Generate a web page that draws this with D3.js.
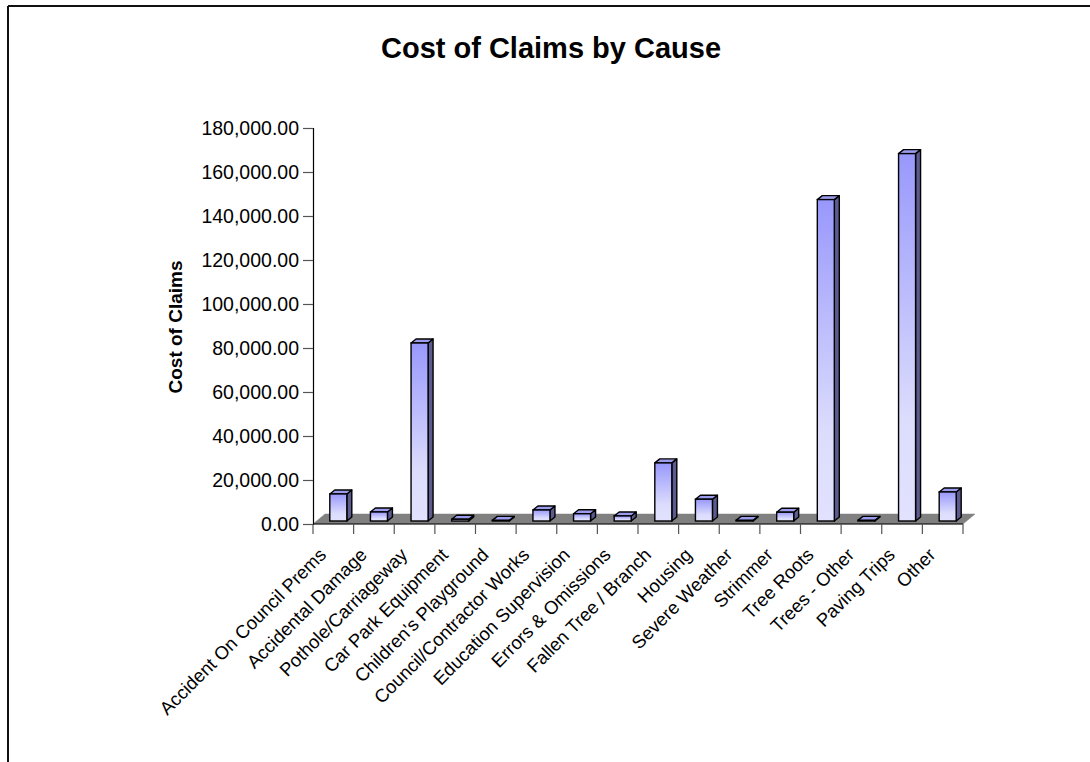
<!DOCTYPE html>
<html>
<head>
<meta charset="utf-8">
<script src="https://cdn.jsdelivr.net/npm/d3@7"></script>
<style>
  html, body { margin: 0; padding: 0; background: #fff; }
  svg { display: block; font-family: "Liberation Sans", Arial, sans-serif; }
</style>
</head>
<body>
<svg id="chart" width="1090" height="762"></svg>
<script>
const categories = [
  "Accident On Council Prems", "Accidental Damage", "Pothole/Carriageway",
  "Car Park Equipment", "Children's Playground", "Council/Contractor Works",
  "Education Supervision", "Errors & Omissions", "Fallen Tree / Branch",
  "Housing", "Severe Weather", "Strimmer", "Tree Roots", "Trees - Other",
  "Paving Trips", "Other"
];
const costs = [
  12300, 4100, 80900, 800, 300, 5000, 3300, 2300, 26400,
  9900, 300, 4000, 146100, 300, 167000, 13200
];
const yTicks = [0, 20000, 40000, 60000, 80000, 100000, 120000, 140000, 160000, 180000];
const titleText = "Cost of Claims by Cause";
const yTitle = "Cost of Claims";

const svg = d3.select("#chart");
const W = 1090, H = 762;

// frame
svg.append("line").attr("x1", 8).attr("y1", 6).attr("x2", W).attr("y2", 6)
  .attr("stroke", "#111").attr("stroke-width", 2);
svg.append("line").attr("x1", 8).attr("y1", 6).attr("x2", 8).attr("y2", H)
  .attr("stroke", "#111").attr("stroke-width", 2);

const x0 = 313, x1 = 963, yBase = 524, yTop = 128;
const x = d3.scaleBand().domain(categories).range([x0, x1]).paddingInner(0).paddingOuter(0);
const y = d3.scaleLinear().domain([0, 180000]).range([yBase, yTop]);

// floor depth
const fdx = 12, fdy = -10;
// bar depth
const bdx = 5, bdy = -4;
const barW = 17;
const barShift = 5; // bars sit mid-floor
const baseLift = 3;

const defs = svg.append("defs");
const grad = defs.append("linearGradient").attr("id", "frontGrad")
  .attr("x1", 0).attr("y1", 0).attr("x2", 0).attr("y2", 1);
grad.append("stop").attr("offset", "0%").attr("stop-color", "#9898fc");
grad.append("stop").attr("offset", "72%").attr("stop-color", "#dcdcfd");
grad.append("stop").attr("offset", "100%").attr("stop-color", "#e2e2ff");

// floor
svg.append("path")
  .attr("d", `M${x0},${yBase} L${x1},${yBase} L${x1 + fdx},${yBase + fdy} L${x0 + fdx},${yBase + fdy} Z`)
  .attr("fill", "#808080").attr("stroke", "#808080").attr("stroke-width", 0.5);

// bars
const bars = svg.append("g").selectAll("g").data(categories.map((c, i) => ({ c, v: costs[i] })))
  .join("g");
bars.each(function (d) {
  const g = d3.select(this);
  const cx = x(d.c) + x.bandwidth() / 2 + barShift;
  const left = cx - barW / 2, right = cx + barW / 2;
  const bottom = yBase - baseLift;
  const top = bottom - (yBase - y(d.v));
  g.append("path")
    .attr("d", `M${right},${bottom} L${right + bdx},${bottom + bdy} L${right + bdx},${top + bdy} L${right},${top} Z`)
    .attr("fill", "#5b5b8f").attr("stroke", "#000").attr("stroke-width", 1.4).attr("stroke-linejoin", "round");
  g.append("path")
    .attr("d", `M${left},${top} L${left + bdx},${top + bdy} L${right + bdx},${top + bdy} L${right},${top} Z`)
    .attr("fill", "#9c9cee").attr("stroke", "#000").attr("stroke-width", 1.4).attr("stroke-linejoin", "round");
  g.append("rect")
    .attr("x", left).attr("y", top).attr("width", barW).attr("height", Math.max(bottom - top, 0.5))
    .attr("fill", "url(#frontGrad)").attr("stroke", "#000").attr("stroke-width", 1.4);
});

// y axis
const yAxis = svg.append("g").attr("transform", `translate(${x0},0)`)
  .call(d3.axisLeft(y).tickValues(yTicks).tickSize(10).tickPadding(4)
    .tickFormat(d => d3.format(",.2f")(d)));
yAxis.select(".domain").attr("stroke", "#000").attr("stroke-width", 1.2);
yAxis.selectAll(".tick line").attr("stroke", "#555").attr("stroke-width", 1.2);
yAxis.selectAll(".tick text").attr("font-size", 19.5).attr("fill", "#000")
  .attr("font-family", "Liberation Sans, Arial, sans-serif");

// x axis
const xAxis = svg.append("g").attr("transform", `translate(0,${yBase})`);
xAxis.append("line").attr("x1", x0).attr("x2", x1).attr("y1", 0).attr("y2", 0)
  .attr("stroke", "#000").attr("stroke-width", 1.2);
const boundaries = categories.map(c => x(c)).concat([x1]);
xAxis.selectAll("line.tk").data(boundaries).join("line").attr("class", "tk")
  .attr("x1", d => d).attr("x2", d => d).attr("y1", 0).attr("y2", 10)
  .attr("stroke", "#555").attr("stroke-width", 1.2);
svg.append("g").selectAll("text").data(categories).join("text")
  .attr("transform", d => `translate(${x(d) + x.bandwidth() / 2 - 6},556) rotate(-45)`)
  .attr("text-anchor", "end")
  .attr("font-size", 18.5).attr("fill", "#000")
  .text(d => d);

// titles
svg.append("text").attr("x", 551).attr("y", 58).attr("text-anchor", "middle")
  .attr("font-size", 29).attr("font-weight", "bold").text(titleText);
svg.append("text").attr("transform", `translate(182,327) rotate(-90)`)
  .attr("text-anchor", "middle").attr("font-size", 19).attr("font-weight", "bold").text(yTitle);
</script>
</body>
</html>
